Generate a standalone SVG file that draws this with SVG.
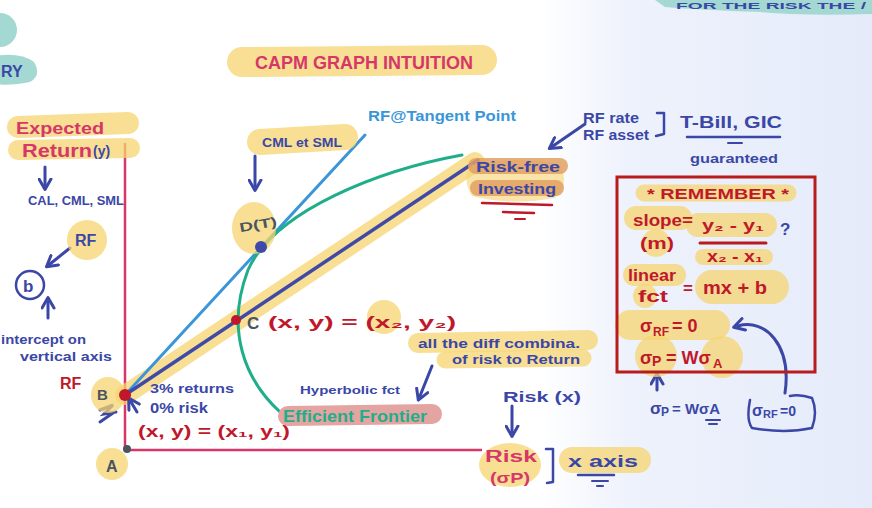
<svg xmlns="http://www.w3.org/2000/svg" width="872" height="508" viewBox="0 0 872 508">
<defs>
<linearGradient id="bg" x1="0" y1="0" x2="1" y2="0">
<stop offset="0" stop-color="#ffffff"/>
<stop offset="0.62" stop-color="#ffffff"/>
<stop offset="0.72" stop-color="#eef2fc"/>
<stop offset="1" stop-color="#e5ebfa"/>
</linearGradient>
<marker id="ah" viewBox="0 0 10 10" refX="5" refY="5" markerWidth="5" markerHeight="5" orient="auto-start-reverse">
<path d="M1,1 L8,5 L1,9" fill="none" stroke="#3b47a6" stroke-width="2" stroke-linecap="round" stroke-linejoin="round"/>
</marker>
<style>
.hl{stroke:#f5d470;stroke-opacity:0.75;stroke-linecap:round;fill:none}
.hlf{fill:#f5d470;fill-opacity:0.75}
.b{font-family:"Liberation Sans",Arial,sans-serif;font-weight:bold;fill:#3b47a6}
.r{font-family:"Liberation Sans",Arial,sans-serif;font-weight:bold;fill:#c0182a}
.p{font-family:"Liberation Sans",Arial,sans-serif;font-weight:bold;fill:#d63768}
.g{font-family:"Liberation Sans",Arial,sans-serif;font-weight:bold;fill:#4a5560}
.arr{stroke:#3b47a6;stroke-width:3;fill:none;stroke-linecap:round;marker-end:url(#ah)}
.pen{stroke:#3b47a6;stroke-width:2.5;fill:none;stroke-linecap:round;stroke-linejoin:round}
</style>
</defs>
<rect width="872" height="508" fill="url(#bg)"/>

<g id="corner-notes">
<circle cx="0" cy="30" r="17" fill="#a3d9d2"/>
<path d="M-5,56 Q20,52 34,62 Q42,75 30,82 Q10,86 -5,84 Z" fill="#a3d9d2"/>
<text class="b" x="1" y="77" font-size="16">RY</text>
<path d="M655,0 L872,0 L872,14 Q800,16 760,12 Q700,10 665,7 Z" fill="#a3d9d2"/>
<text class="b" x="676" y="9" font-size="9" textLength="190" lengthAdjust="spacingAndGlyphs">FOR THE RISK THE /</text>
</g>

<g id="title">
<line class="hl" x1="242" y1="62" x2="482" y2="60" stroke-width="30"/>
<text class="p" x="255" y="69" font-size="19" textLength="218" lengthAdjust="spacingAndGlyphs">CAPM GRAPH INTUITION</text>
</g>

<g id="axes">
<line x1="125" y1="143" x2="125" y2="450" stroke="#d63768" stroke-width="2.5"/>
<line x1="125" y1="450" x2="482" y2="450" stroke="#d63768" stroke-width="2.5"/>
</g>

<g id="connectors">
<line class="hl" x1="125" y1="395" x2="475" y2="162" stroke-width="20"/>
<line x1="125" y1="395" x2="365" y2="135" stroke="#3a96d8" stroke-width="3" stroke-linecap="round"/>
<path d="M280,412 C245,380 225,330 248,270 C275,210 380,170 462,155" fill="none" stroke="#1fae8a" stroke-width="3" stroke-linecap="round"/>
<line x1="125" y1="395" x2="478" y2="160" stroke="#3f4aa8" stroke-width="3.5" stroke-linecap="round"/>
<line class="arr" x1="45" y1="167" x2="45" y2="185"/>
<line class="arr" x1="70" y1="248" x2="50" y2="264"/>
<line class="arr" x1="48" y1="318" x2="48" y2="302"/>
<line class="arr" x1="255" y1="156" x2="255" y2="186"/>
<line class="arr" x1="585" y1="124" x2="553" y2="146"/>
<line class="arr" x1="432" y1="366" x2="420" y2="396"/>
<line class="arr" x1="512" y1="406" x2="512" y2="432"/>
<line class="arr" x1="657" y1="390" x2="657" y2="378"/>
<line class="arr" x1="137" y1="412" x2="131" y2="402"/>
<path class="arr" d="M785,393 C792,345 765,318 738,326"/>
<path d="M100,410 L113,405 L104,414 L116,412 M100,422 L113,413" stroke="#3b47a6" stroke-width="3" fill="none" stroke-linecap="round"/>
</g>

<g id="y-label">
<line class="hl" x1="18" y1="127" x2="128" y2="123" stroke-width="22"/>
<line class="hl" x1="18" y1="150" x2="130" y2="148" stroke-width="20"/>
<text class="p" x="16" y="134" font-size="17" textLength="88" lengthAdjust="spacingAndGlyphs">Expected</text>
<text class="p" x="22" y="157" font-size="18" textLength="70" lengthAdjust="spacingAndGlyphs">Return</text>
<text class="b" x="93" y="156" font-size="14">(y)</text>
<text class="b" x="28" y="205" font-size="12" textLength="96" lengthAdjust="spacingAndGlyphs">CAL, CML, SML</text>
</g>

<g id="intercept">
<circle class="hlf" cx="87" cy="240" r="20"/>
<text class="b" x="75" y="246" font-size="16">RF</text>
<circle cx="30" cy="285" r="14" fill="none" stroke="#3b47a6" stroke-width="2.5"/>
<text class="b" x="23" y="292" font-size="17">b</text>
<text class="b" x="1" y="344" font-size="12" textLength="85" lengthAdjust="spacingAndGlyphs">intercept on</text>
<text class="b" x="20" y="361" font-size="12" textLength="92" lengthAdjust="spacingAndGlyphs">vertical axis</text>
</g>

<g id="point-B">
<ellipse class="hlf" cx="108" cy="395" rx="17" ry="18"/>
<text class="r" x="60" y="389" font-size="16">RF</text>
<text class="g" x="97" y="400" font-size="15">B</text>
<circle cx="125" cy="395" r="6" fill="#c0182a"/>
<text class="b" x="150" y="393" font-size="12" textLength="84" lengthAdjust="spacingAndGlyphs">3% returns</text>
<text class="b" x="150" y="413" font-size="14" textLength="58" lengthAdjust="spacingAndGlyphs">0% risk</text>
<text class="r" x="138" y="437" font-size="16" textLength="152" lengthAdjust="spacingAndGlyphs">(x, y) = (x₁, y₁)</text>
</g>

<g id="point-A">
<circle class="hlf" cx="112" cy="464" r="16"/>
<circle cx="127" cy="449" r="4" fill="#4a5560"/>
<text class="g" x="106" y="472" font-size="16">A</text>
</g>

<g id="cml-label">
<line class="hl" x1="260" y1="142" x2="345" y2="137" stroke-width="26"/>
<text class="b" x="262" y="147" font-size="13" textLength="80" lengthAdjust="spacingAndGlyphs">CML et SML</text>
<text x="368" y="121" font-size="14" font-family="Liberation Sans,Arial,sans-serif" font-weight="bold" fill="#3a96d8" textLength="148" lengthAdjust="spacingAndGlyphs">RF@Tangent Point</text>
</g>

<g id="point-D">
<ellipse class="hlf" cx="254" cy="228" rx="22" ry="26"/>
<text class="g" x="239" y="229" font-size="13" textLength="38" lengthAdjust="spacingAndGlyphs" transform="rotate(-10 258 224)">D(T)</text>
<circle cx="261" cy="247" r="6" fill="#3f4aa8"/>
</g>

<g id="point-C">
<circle class="hlf" cx="384" cy="317" r="17"/>
<circle cx="236" cy="320" r="5" fill="#c0182a"/>
<text class="g" x="247" y="329" font-size="17">C</text>
<text class="r" x="268" y="328" font-size="16" textLength="188" lengthAdjust="spacingAndGlyphs">(x, y) = (x₂, y₂)</text>
</g>

<g id="risk-free">
<path d="M470,165 Q520,155 560,165 Q570,185 555,198 Q510,206 472,196 Q462,180 470,165 Z" fill="#f5d470" fill-opacity="0.6"/>
<line x1="476" y1="166" x2="560" y2="166" stroke="#e2a062" stroke-width="16" stroke-linecap="round" stroke-opacity="0.85"/>
<line x1="478" y1="188" x2="556" y2="188" stroke="#e2a062" stroke-width="16" stroke-linecap="round" stroke-opacity="0.85"/>
<text class="b" x="476" y="172" font-size="15" textLength="84" lengthAdjust="spacingAndGlyphs">Risk-free</text>
<text class="b" x="478" y="194" font-size="15" textLength="78" lengthAdjust="spacingAndGlyphs">Investing</text>
<line x1="482" y1="203" x2="552" y2="205" stroke="#c0182a" stroke-width="2.5" stroke-linecap="round"/>
<line x1="503" y1="212" x2="534" y2="213" stroke="#c0182a" stroke-width="2.5" stroke-linecap="round"/>
<line x1="515" y1="219" x2="525" y2="219" stroke="#c0182a" stroke-width="2" stroke-linecap="round"/>
</g>

<g id="rf-asset">
<text class="b" x="583" y="123" font-size="14" textLength="56" lengthAdjust="spacingAndGlyphs">RF rate</text>
<text class="b" x="583" y="140" font-size="14" textLength="66" lengthAdjust="spacingAndGlyphs">RF asset</text>
<path class="pen" d="M657,113 L664,113 L664,134 L656,136"/>
<text class="b" x="680" y="128" font-size="17" textLength="102" lengthAdjust="spacingAndGlyphs">T-Bill, GIC</text>
<line x1="687" y1="137" x2="780" y2="137" stroke="#3b47a6" stroke-width="2.5" stroke-linecap="round"/>
<line x1="728" y1="143" x2="742" y2="143" stroke="#3b47a6" stroke-width="2" stroke-linecap="round"/>
<text class="b" x="690" y="163" font-size="13" textLength="88" lengthAdjust="spacingAndGlyphs">guaranteed</text>
</g>

<g id="remember">
<line class="hl" x1="644" y1="193" x2="788" y2="193" stroke-width="17"/>
<line class="hl" x1="636" y1="218" x2="680" y2="218" stroke-width="24"/>
<circle class="hlf" cx="656" cy="243" r="14"/>
<line class="hl" x1="698" y1="225" x2="765" y2="225" stroke-width="24"/>
<line class="hl" x1="703" y1="257" x2="765" y2="257" stroke-width="16"/>
<line class="hl" x1="634" y1="275" x2="675" y2="275" stroke-width="22"/>
<circle class="hlf" cx="645" cy="296" r="12"/>
<line class="hl" x1="712" y1="287" x2="772" y2="287" stroke-width="34"/>
<line class="hl" x1="630" y1="325" x2="715" y2="325" stroke-width="30"/>
<circle class="hlf" cx="656" cy="356" r="21"/>
<circle class="hlf" cx="722" cy="357" r="21"/>
<rect x="617" y="177" width="198" height="195" fill="none" stroke="#b81c1c" stroke-width="3"/>
<text class="r" x="647" y="199" font-size="15" textLength="142" lengthAdjust="spacingAndGlyphs">* REMEMBER *</text>
<text class="r" x="633" y="226" font-size="17" textLength="60" lengthAdjust="spacingAndGlyphs">slope=</text>
<text class="r" x="640" y="249" font-size="16" textLength="34" lengthAdjust="spacingAndGlyphs">(m)</text>
<text class="r" x="702" y="231" font-size="17" textLength="62" lengthAdjust="spacingAndGlyphs">y₂ - y₁</text>
<line x1="700" y1="243" x2="766" y2="243" stroke="#b81c1c" stroke-width="3" stroke-linecap="round"/>
<text class="r" x="707" y="262" font-size="16" textLength="56" lengthAdjust="spacingAndGlyphs">x₂ - x₁</text>
<text class="b" x="780" y="235" font-size="17">?</text>
<text class="r" x="628" y="281" font-size="16" textLength="48" lengthAdjust="spacingAndGlyphs">linear</text>
<text class="r" x="638" y="302" font-size="16" textLength="30" lengthAdjust="spacingAndGlyphs">fct</text>
<text class="r" x="683" y="294" font-size="17">=</text>
<text class="r" x="703" y="294" font-size="19" textLength="64" lengthAdjust="spacingAndGlyphs">mx + b</text>
<text class="r" x="640" y="332" font-size="18">σ</text>
<text class="r" x="653" y="336" font-size="12">RF</text>
<text class="r" x="672" y="332" font-size="18">= 0</text>
<text class="r" x="640" y="364" font-size="18">σ</text>
<text class="r" x="652" y="366" font-size="14">P</text>
<text class="r" x="666" y="364" font-size="18">= Wσ</text>
<text class="r" x="713" y="368" font-size="13">A</text>
</g>

<g id="sigma-notes">
<text class="b" x="650" y="414" font-size="17">σ</text>
<text class="b" x="661" y="416" font-size="12">P</text>
<text class="b" x="672" y="414" font-size="15" textLength="48" lengthAdjust="spacingAndGlyphs">= WσA</text>
<line x1="706" y1="420" x2="720" y2="420" stroke="#3b47a6" stroke-width="2" stroke-linecap="round"/>
<line x1="709" y1="424" x2="717" y2="424" stroke="#3b47a6" stroke-width="2" stroke-linecap="round"/>
<path class="pen" d="M750,400 Q746,420 752,428 Q785,434 812,428 Q818,412 812,398 Q800,394 790,396"/>
<text class="b" x="752" y="416" font-size="16">σ</text>
<text class="b" x="763" y="418" font-size="11">RF</text>
<text class="b" x="780" y="416" font-size="14">=0</text>
</g>

<g id="frontier">
<line class="hl" x1="418" y1="343" x2="588" y2="340" stroke-width="20"/>
<line class="hl" x1="445" y1="360" x2="583" y2="358" stroke-width="17"/>
<text class="b" x="418" y="348" font-size="12" textLength="162" lengthAdjust="spacingAndGlyphs">all the diff combina.</text>
<text class="b" x="452" y="364" font-size="12" textLength="128" lengthAdjust="spacingAndGlyphs">of risk to Return</text>
<text class="b" x="300" y="394" font-size="11" textLength="100" lengthAdjust="spacingAndGlyphs">Hyperbolic fct</text>
<line x1="288" y1="416" x2="432" y2="414" stroke="#e3a4a2" stroke-width="20" stroke-linecap="round"/>
<text x="283" y="422" font-size="17" font-family="Liberation Sans,Arial,sans-serif" font-weight="bold" fill="#1fae8a" textLength="144" lengthAdjust="spacingAndGlyphs">Efficient Frontier</text>
</g>

<g id="x-label">
<text class="b" x="503" y="402" font-size="15" textLength="78" lengthAdjust="spacingAndGlyphs">Risk (x)</text>
<ellipse class="hlf" cx="510" cy="465" rx="31" ry="22"/>
<text class="p" x="485" y="462" font-size="16" textLength="52" lengthAdjust="spacingAndGlyphs">Risk</text>
<text class="p" x="490" y="483" font-size="15" textLength="40" lengthAdjust="spacingAndGlyphs">(σP)</text>
<path class="pen" d="M546,449 L553,449 L553,482 L547,483"/>
<line class="hl" x1="572" y1="460" x2="638" y2="460" stroke-width="26"/>
<text class="b" x="568" y="467" font-size="17" textLength="70" lengthAdjust="spacingAndGlyphs">x axis</text>
<line x1="578" y1="475" x2="614" y2="475" stroke="#3b47a6" stroke-width="2.5" stroke-linecap="round"/>
<line x1="592" y1="481" x2="608" y2="481" stroke="#3b47a6" stroke-width="2" stroke-linecap="round"/>
<line x1="597" y1="486" x2="603" y2="486" stroke="#3b47a6" stroke-width="2" stroke-linecap="round"/>
</g>
</svg>
